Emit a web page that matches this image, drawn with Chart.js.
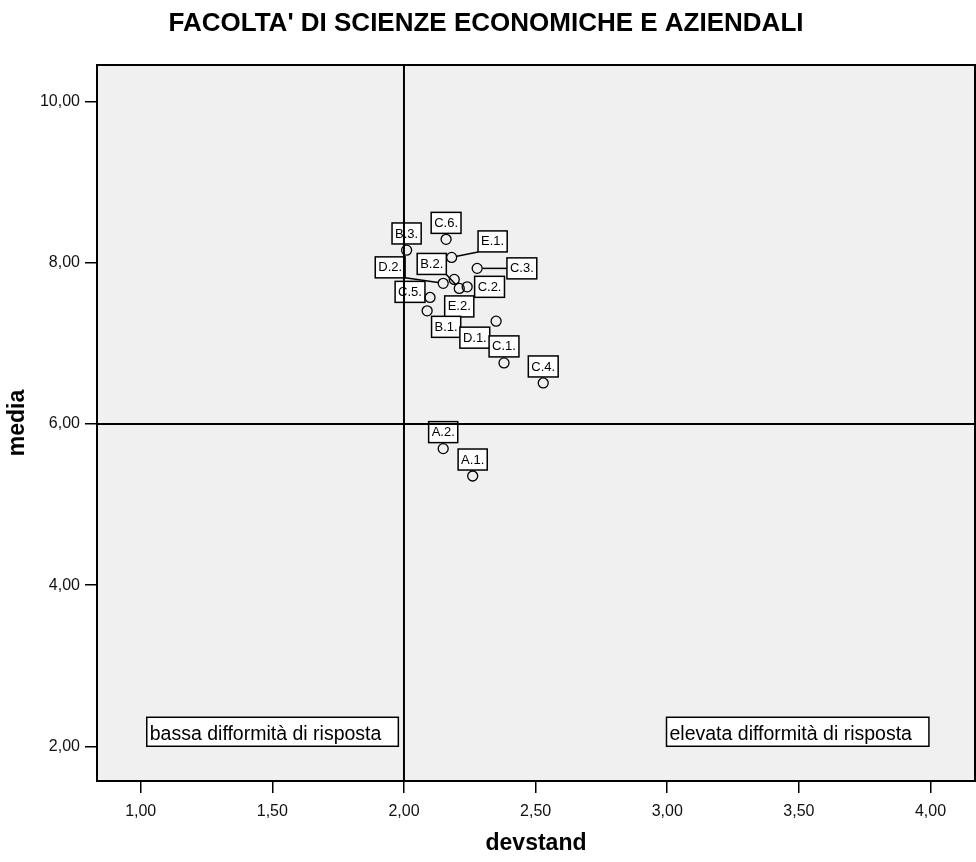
<!DOCTYPE html>
<html><head><meta charset="utf-8">
<script src="https://cdn.jsdelivr.net/npm/chart.js@4.4.0/dist/chart.umd.min.js"></script>
<style>html,body{margin:0;padding:0;background:#fff;}#wrap{width:976px;height:862px;}</style>
</head><body><div id="wrap"><canvas id="c" width="976" height="862"></canvas></div>
<script>
// ---- data ----
const pointLabels = ['C.6.','B.3.','E.1.','C.3.','B.2.','D.2.','C.5.','C.2.','E.2.','B.1.','D.1.','C.1.','C.4.','A.2.','A.1.'];
const devstand = [2.160,2.010,2.181,2.278,2.210,2.149,2.099,2.240,2.191,2.088,2.350,2.380,2.529,2.149,2.261];
const media    = [8.291,8.157,8.067,7.931,7.682,7.745,7.570,7.702,7.794,7.404,7.276,6.758,6.509,5.694,5.354];
const xTicks = [1,1.5,2,2.5,3,3.5,4];
const yTicks = [2,4,6,8,10];
const refX = 2.00, refY = 6.00;
const titleText = "FACOLTA' DI SCIENZE ECONOMICHE E AZIENDALI";
const xTitle = 'devstand';
const yTitle = 'media';
const noteLow = 'bassa difformità di risposta';
const noteHigh = 'elevata difformità di risposta';

const FONT = '"Liberation Sans", Arial, sans-serif';
const fmt = v => Number(v).toFixed(2).replace('.', ',');

// label box offsets (pixels from point centre) and leader flag
const labelOffsets = {
  'C.6.':[0,-16.5],'B.3.':[0,-16.7],'E.1.':[41,-16,1],'B.2.':[-27.5,-24.5,1],
  'D.2.':[-53,-16,1],'C.3.':[44.7,0,1],'C.5.':[-20,-5.6],'C.2.':[22.4,0],
  'E.2.':[5,27],'B.1.':[19,16],'D.1.':[-21.3,16.5],'C.1.':[0,-16.5],
  'C.4.':[0,-16.5],'A.2.':[0,-16.5],'A.1.':[0,-16.5]
};

const points = devstand.map((x,i)=>({x:x, y:media[i]}));

const spssPlugin = {
  id:'spss',
  beforeDraw(chart){
    const {ctx, chartArea:a} = chart;
    ctx.save();
    ctx.fillStyle = '#fff';
    ctx.fillRect(0,0,chart.width,chart.height);
    ctx.fillStyle = '#f0f0f0';
    ctx.fillRect(a.left,a.top,a.right-a.left,a.bottom-a.top);
    ctx.restore();
  },
  beforeDatasetsDraw(chart){
    const {ctx, chartArea:a, scales} = chart;
    const xs = scales.x, ys = scales.y;
    ctx.save();
    // annotation boxes
    ctx.font = '19.5px ' + FONT;
    ctx.textBaseline = 'alphabetic';
    ctx.textAlign = 'left';
    const drawNote = (text, xVal, yVal, anchorRight) => {
      const w = ctx.measureText(text).width + 20;
      const h = 29;
      const bottom = ys.getPixelForValue(yVal);
      const left = anchorRight ? xs.getPixelForValue(xVal) - w : xs.getPixelForValue(xVal);
      ctx.fillStyle = '#fff';
      ctx.fillRect(left, bottom-h, w, h);
      ctx.strokeStyle = '#000'; ctx.lineWidth = 1.5;
      ctx.strokeRect(left, bottom-h, w, h);
      ctx.fillStyle = '#000';
      ctx.fillText(text, left+3, bottom-6.7);
    };
    drawNote(noteLow, 1.023, 2.0, false);
    drawNote(noteHigh, 3.994, 2.0, true);

    // point label boxes
    ctx.font = '13px ' + FONT;
    const r = 5.3;
    pointLabels.forEach((lab,i)=>{
      const px = xs.getPixelForValue(devstand[i]);
      const py = ys.getPixelForValue(media[i]);
      const off = labelOffsets[lab] || [0,-16.5];
      const cx = px + off[0], cy = py + off[1];
      const w = ctx.measureText(lab).width + 6, h = 21;
      const l = cx - w/2, t = cy - h/2;
      if (off[2]) {
        const tx = Math.min(Math.max(px, l), l+w);
        const ty = Math.min(Math.max(py, t), t+h);
        const dx = tx-px, dy = ty-py, d = Math.hypot(dx,dy) || 1;
        ctx.beginPath();
        ctx.moveTo(px + dx/d*r, py + dy/d*r);
        ctx.lineTo(tx, ty);
        ctx.strokeStyle = '#000'; ctx.lineWidth = 1.5;
        ctx.stroke();
      }
      ctx.fillStyle = '#fff';
      ctx.fillRect(l,t,w,h);
      ctx.strokeStyle = '#000'; ctx.lineWidth = 1.5;
      ctx.strokeRect(l,t,w,h);
      ctx.fillStyle = '#000';
      ctx.textAlign = 'center'; ctx.textBaseline = 'middle';
      ctx.fillText(lab, cx, cy+0.5);
    });

    // reference lines
    ctx.strokeStyle = '#000'; ctx.lineWidth = 2;
    const rx = xs.getPixelForValue(refX), ry = ys.getPixelForValue(refY);
    ctx.beginPath();
    ctx.moveTo(rx, a.top); ctx.lineTo(rx, a.bottom);
    ctx.moveTo(a.left, ry); ctx.lineTo(a.right, ry);
    ctx.stroke();
    ctx.restore();
  },
  afterDraw(chart){
    const {ctx, chartArea:a} = chart;
    ctx.save();
    ctx.strokeStyle = '#000'; ctx.lineWidth = 2;
    ctx.strokeRect(a.left, a.top, a.right-a.left, a.bottom-a.top);
    ctx.fillStyle = '#000';
    ctx.textAlign = 'center'; ctx.textBaseline = 'alphabetic';
    ctx.font = 'bold 26px ' + FONT;
    ctx.fillText(titleText, 486, 30.7);
    ctx.font = 'bold 23px ' + FONT;
    ctx.fillText(xTitle, (a.left+a.right)/2, 850);
    ctx.translate(24, (a.top+a.bottom)/2);
    ctx.rotate(-Math.PI/2);
    ctx.fillText(yTitle, 0, 0);
    ctx.restore();
  }
};

new Chart(document.getElementById('c'), {
  type:'scatter',
  data:{ datasets:[{
    label:'media',
    data: points,
    pointRadius:5,
    pointHoverRadius:5,
    pointBorderWidth:1.3,
    borderColor:'#000',
    pointBorderColor:'#000',
    pointBackgroundColor:'rgba(0,0,0,0)',
    backgroundColor:'rgba(0,0,0,0)'
  }]},
  options:{
    responsive:false,
    animation:false,
    devicePixelRatio:1,
    layout:{autoPadding:false, padding:{left:0, top:65, right:1, bottom:0}},
    plugins:{legend:{display:false}, tooltip:{enabled:false}, title:{display:false}},
    scales:{
      x:{
        type:'linear', min:0.834, max:4.169,
        afterBuildTicks: s => { s.ticks = xTicks.map(v=>({value:v})); },
        afterFit: s => { s.height = 81; },
        grid:{display:true, drawOnChartArea:false, drawTicks:true, tickLength:12, color:'#000', lineWidth:1.5},
        border:{display:false},
        ticks:{callback: v => fmt(v), font:{family:FONT, size:16}, color:'#111', padding:9, maxRotation:0, autoSkip:false}
      },
      y:{
        type:'linear', min:1.569, max:10.455,
        afterBuildTicks: s => { s.ticks = yTicks.map(v=>({value:v})); },
        afterFit: s => { s.width = 97; },
        grid:{display:true, drawOnChartArea:false, drawTicks:true, tickLength:12, color:'#000', lineWidth:1.5},
        border:{display:false},
        ticks:{callback: v => fmt(v), font:{family:FONT, size:16}, color:'#111', padding:5, autoSkip:false}
      }
    }
  },
  plugins:[spssPlugin]
});
</script>
</body></html>
